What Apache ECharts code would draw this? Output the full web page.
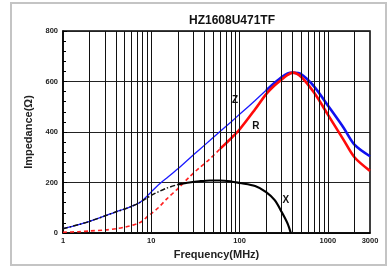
<!DOCTYPE html>
<html><head><meta charset="utf-8">
<script src="https://cdn.jsdelivr.net/npm/echarts@6/dist/echarts.min.js"></script>
<style>html,body{margin:0;padding:0;background:#fff}#c{width:388px;height:266px}</style>
</head><body><div id="c"></div>
<script>
// Frequency (MHz) sample points
var freqs = [1, 1.5, 2, 3, 4, 5, 6, 7, 8, 9, 10, 12, 15, 20, 27, 35, 46, 60, 80, 100, 150, 200, 250, 300, 350, 400, 500, 700, 1000, 1500, 2000, 3000];
// |Z| (Ohm)
var zVals = [17, 33, 46, 68, 84, 95, 106, 116, 130, 147, 163, 190, 218, 254, 295, 330, 366, 402, 440, 470, 525, 565, 595, 618, 632, 635, 628, 580, 505, 418, 350, 304];
// R (Ohm)
var rVals = [3, 5, 8, 12, 17, 23, 30, 37, 48, 65, 77, 100, 135, 176, 222, 258, 293, 333, 375, 410, 490, 550, 585, 608, 626, 635, 618, 555, 469, 370, 300, 246];
// X (Ohm)
var xFreqs = [1, 1.5, 2, 3, 4, 5, 6, 7, 8, 9, 10, 12, 15, 20, 27, 35, 46, 60, 80, 100, 150, 200, 250, 300, 350, 380];
var xVals = [17, 33, 46, 68, 84, 95, 106, 116, 128, 140, 149, 163, 178, 192, 200, 205, 208, 208, 204, 198, 186, 162, 130, 83, 37, 0];
// Tick labels / grid
var xTickLabels = [1, 10, 100, 1000, 3000];
var gridFreqs = [2,3,4,5,6,7,8,9,10,20,30,40,50,60,70,80,90,100,200,300,400,500,600,700,800,900,1000,2000];
var curveLabels = [{name:'Z', f:89, v:525}, {name:'R', f:153, v:423}, {name:'X', f:335, v:130}];

var zSplit = 200, rSplit = 60, xSplit = 20;
function pairs(fs, vs, lo, hi){var o=[];for(var i=0;i<fs.length;i++){if(fs[i]>=lo&&fs[i]<=hi)o.push([fs[i],vs[i]]);}return o;}

var FONT = '"Liberation Sans", Arial, sans-serif';
var chart = echarts.init(document.getElementById('c'), null, {renderer:'canvas'});
function lbl(n){for(var i=0;i<curveLabels.length;i++)if(curveLabels[i].name===n)return curveLabels[i];}
function mp(n){var l=lbl(n);return {symbol:'circle',symbolSize:1,silent:true,animation:false,
  itemStyle:{color:'rgba(0,0,0,0)'},
  label:{show:true,position:'inside',formatter:n,fontFamily:FONT,fontWeight:'bold',fontSize:10,color:'#111'},
  data:[{coord:[l.f,l.v]}]};}

chart.setOption({
  animation:false,
  backgroundColor:'#fff',
  title:{text:'HZ1608U471TF',left:227,top:10,textAlign:'center',
    textStyle:{fontFamily:FONT,fontWeight:'bold',fontSize:12,color:'#111'}},
  graphic:[{type:'rect',shape:{x:11,y:3,width:375,height:262},style:{fill:'none',stroke:'#c4c4c4',lineWidth:2},silent:true}],
  grid:{left:63,right:18,top:31,bottom:33,show:true,borderColor:'#000',borderWidth:1.5,backgroundColor:'transparent'},
  xAxis:{type:'log',logBase:10,min:1,max:3000,
    name:'Frequency(MHz)',nameLocation:'middle',nameGap:16,
    nameTextStyle:{fontFamily:FONT,fontWeight:'bold',fontSize:11,color:'#222'},
    axisLine:{lineStyle:{color:'#000',width:1.5}},
    axisTick:{show:false},
    splitLine:{show:false},
    axisLabel:{customValues:xTickLabels,fontFamily:FONT,fontWeight:'bold',fontSize:7.5,color:'#222',margin:4,
      formatter:function(v){return String(Math.round(v));}}
  },
  yAxis:{type:'value',min:0,max:800,interval:200,
    name:'Impedance(Ω)',nameLocation:'middle',nameGap:22,
    nameTextStyle:{fontFamily:FONT,fontWeight:'bold',fontSize:11,color:'#222'},
    axisLine:{lineStyle:{color:'#000',width:1.5}},
    axisTick:{show:true,inside:true,length:4,lineStyle:{color:'#000'}},
    minorTick:{show:true,splitNumber:5,length:3,lineStyle:{color:'#000'}},
    splitLine:{show:true,lineStyle:{color:'#222',width:1}},
    axisLabel:{fontFamily:FONT,fontWeight:'bold',fontSize:7.5,color:'#222',margin:5}
  },
  series:[
    {type:'line',silent:true,data:[],markLine:{silent:true,symbol:'none',label:{show:false},
      lineStyle:{color:'#111',width:1,type:'solid'},
      data:gridFreqs.map(function(f){return {xAxis:f};})}},
    {type:'line',name:'Z thin',data:pairs(freqs,zVals,0,zSplit),showSymbol:false,symbol:'none',smooth:0.3,
      lineStyle:{color:'#1a1aff',width:1.3},z:3},
    {type:'line',name:'Z',data:pairs(freqs,zVals,zSplit,1e9),showSymbol:false,symbol:'none',smooth:0.3,
      lineStyle:{color:'#1010f0',width:2.6},z:3,markPoint:mp('Z')},
    {type:'line',name:'R dash',data:pairs(freqs,rVals,0,rSplit),showSymbol:false,symbol:'none',smooth:0.3,
      lineStyle:{color:'#ff2020',width:1.6,type:[4,3]},z:4},
    {type:'line',name:'R',data:pairs(freqs,rVals,rSplit,1e9),showSymbol:false,symbol:'none',smooth:0.3,
      lineStyle:{color:'#ff0a0a',width:2.6},z:4,markPoint:mp('R')},
    {type:'line',name:'X dash',data:pairs(xFreqs,xVals,0,xSplit),showSymbol:false,symbol:'none',smooth:0.3,
      lineStyle:{color:'#111',width:1.5,type:[5,2,1.5,2]},z:5},
    {type:'line',name:'X',data:pairs(xFreqs,xVals,xSplit,1e9),showSymbol:false,symbol:'none',smooth:0.3,
      lineStyle:{color:'#000',width:2.2},z:5,markPoint:mp('X')}
  ]
});
</script></body></html>
